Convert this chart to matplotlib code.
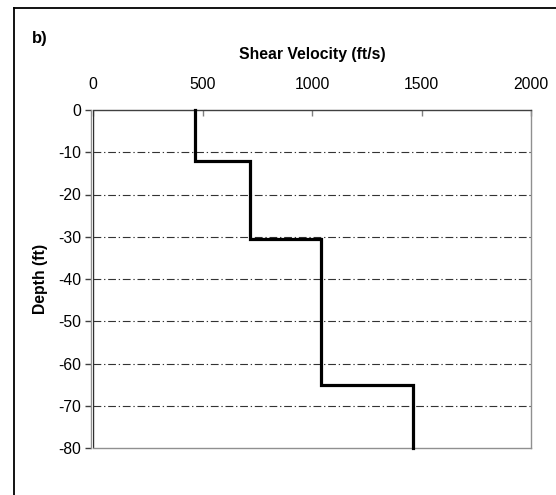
import matplotlib
matplotlib.use("Agg")
import matplotlib.pyplot as plt
from matplotlib.lines import Line2D

# layer profile: shear velocity (ft/s) per layer, layer boundaries (ft)
layer_top = [0, -12, -30.5, -65]
layer_bot = [-12, -30.5, -65, -80]
layer_vs = [465, 715, 1040, 1460]

x_ticks = [0, 500, 1000, 1500, 2000]
y_ticks = [0, -10, -20, -30, -40, -50, -60, -70, -80]
grid_depths = [-10, -20, -30, -40, -50, -60, -70]

plt.rcParams["font.family"] = ["Liberation Sans", "DejaVu Sans"]
plt.rcParams["axes.unicode_minus"] = False

fig = plt.figure(figsize=(5.56, 4.95), dpi=100)
ax = fig.add_axes([93 / 556, 1 - 448 / 495, (531 - 93) / 556, (448 - 110) / 495])

# step profile
vs, depth = [], []
for top, bot, v in zip(layer_top, layer_bot, layer_vs):
    vs += [v, v]
    depth += [top, bot]
ax.plot(vs, depth, color="black", lw=2.3, solid_joinstyle="miter", zorder=3, clip_on=False)

for d in grid_depths:
    ax.axhline(d, color="#333333", lw=0.8, linestyle=(0, (7, 2.5, 1.2, 2.5)), zorder=1)

ax.set_xlim(0, 2000)
ax.set_ylim(-80, 0)
ax.xaxis.tick_top()
ax.xaxis.set_label_position("top")
ax.set_xticks(x_ticks)
ax.set_yticks(y_ticks)
ax.tick_params(axis="x", direction="in", length=4, width=1, color="#808080",
               labelsize=11.3, pad=13)
ax.tick_params(axis="y", direction="out", length=4, width=1, color="#404040",
               labelsize=11.3, pad=3)
ax.set_xlabel("Shear Velocity (ft/s)", fontsize=11.3, fontweight="bold", labelpad=13)
ax.set_ylabel("Depth (ft)", fontsize=11.3, fontweight="bold", labelpad=7)

ax.spines["top"].set_color("#404040")
ax.spines["right"].set_color("#909090")
ax.spines["bottom"].set_color("#909090")
ax.spines["left"].set_color("#909090")
ax.spines["left"].set_position(("outward", 1.5))
ax.axvline(0, color="#303030", lw=1, zorder=2)
for s in ax.spines.values():
    s.set_linewidth(1)

fig.text(32 / 556, 1 - 38 / 495, "b)", fontsize=12, fontweight="bold", va="center")

# outer frame (cut off at the right and bottom)
fig.add_artist(Line2D([13.5 / 556, 1.0], [1 - 7.5 / 495, 1 - 7.5 / 495],
                      transform=fig.transFigure, color="black", lw=1.3))
fig.add_artist(Line2D([13.5 / 556, 13.5 / 556], [0.0, 1 - 7.5 / 495],
                      transform=fig.transFigure, color="black", lw=1.3))

fig.savefig("out.png", dpi=100)
